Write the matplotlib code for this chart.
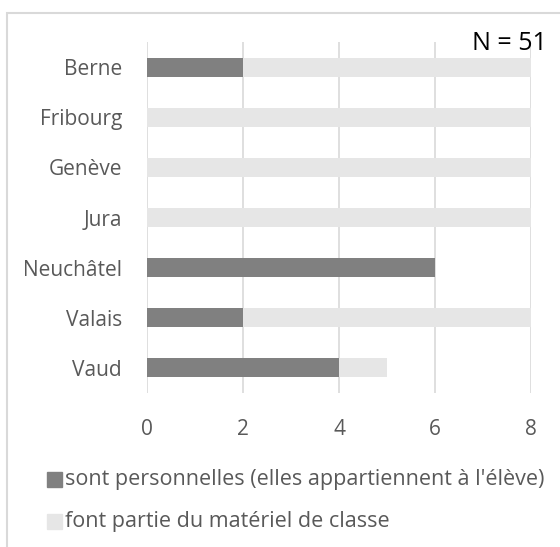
import matplotlib.pyplot as plt
from matplotlib.patches import Rectangle

plt.rcParams['font.family'] = ['Open Sans', 'DejaVu Sans']

cantons = ["Berne", "Fribourg", "Genève", "Jura", "Neuchâtel", "Valais", "Vaud"]
personnelles = [2, 0, 0, 0, 6, 2, 4]
materiel_classe = [6, 8, 8, 8, 0, 6, 1]
series_labels = ["sont personnelles (elles appartiennent à l'élève)",
                 "font partie du matériel de classe"]
colors = ["#808080", "#e6e6e6"]
xticks = [0, 2, 4, 6, 8]

fig = plt.figure(figsize=(5.6, 5.47), dpi=100)
ax = fig.add_axes([147 / 560, 1 - 393 / 547, 384 / 560, 351 / 547])

y = list(range(len(cantons)))
ax.barh(y, personnelles, height=0.38, color=colors[0], zorder=3)
ax.barh(y, materiel_classe, left=personnelles, height=0.38, color=colors[1], zorder=3)

ax.set_xlim(0, 8)
ax.set_ylim(len(cantons) - 0.5, -0.5)
ax.set_xticks(xticks)
ax.set_yticks(y)
ax.set_yticklabels(cantons)
ax.tick_params(length=0, labelsize=15, labelcolor="#595959")
ax.tick_params(axis="x", pad=19)
ax.tick_params(axis="y", pad=18)
ax.grid(axis="x", color="#d9d9d9", linewidth=1.2, zorder=0)
for s in ax.spines.values():
    s.set_visible(False)

fig.text(547 / 560, 1 - 43 / 547, "N = 51", ha="right", va="center", fontsize=18, color="black")

# legend drawn by hand, Excel style
for i, (lab, c) in enumerate(zip(series_labels, colors)):
    yy = 1 - (479 + 42 * i) / 547
    fig.patches.append(Rectangle((47 / 560, yy - 7.5 / 547), 15 / 560, 15 / 547,
                                 transform=fig.transFigure, color=c))
    fig.text(65 / 560, yy, lab, ha="left", va="center", fontsize=15.5, color="#595959")

# chart frame
fig.patches.append(Rectangle((7 / 560, -0.05), 560, 1 - 13 / 547 + 0.05, transform=fig.transFigure,
                             fill=False, edgecolor="#d9d9d9", linewidth=1.5))

fig.savefig("out.png", dpi=100)
